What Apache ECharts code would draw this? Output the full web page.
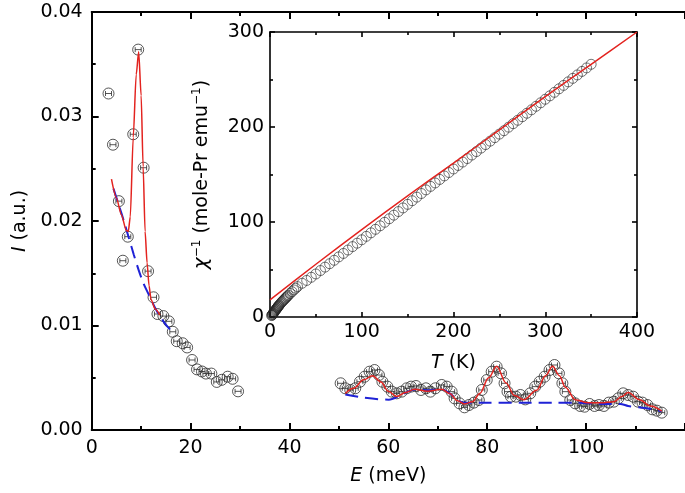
<!DOCTYPE html>
<html><head><meta charset="utf-8">
<script src="https://cdn.jsdelivr.net/npm/echarts@6/dist/echarts.min.js"></script>
<style>html,body{margin:0;padding:0;background:#fff}#c{width:685px;height:493px}</style>
</head><body><div id="c"></div><script>
// ---- Main panel: inelastic intensity I vs E ----
const lowE = [3.4, 4.3, 5.5, 6.3, 7.3, 8.4, 9.4, 10.5, 11.4, 12.5, 13.3, 14.5, 15.6, 16.4, 17.2, 18.4, 19.3, 20.3, 21.3, 22.3, 23.1, 24.2, 25.3, 26.3, 27.5, 28.5, 29.6];
const lowI = [0.0322, 0.0273, 0.0219, 0.0162, 0.0185, 0.0283, 0.0364, 0.0251, 0.0152, 0.0127, 0.0111, 0.0109, 0.0104, 0.0094, 0.0085, 0.0083, 0.0079, 0.0067, 0.0058, 0.0056, 0.0054, 0.0054, 0.0046, 0.0048, 0.0051, 0.0049, 0.0037];
const highE = [50.35, 51.3, 52.3, 53.3, 54.25, 55.2, 56.2, 57.2, 58.1, 58.8, 59.8, 60.7, 61.7, 62.7, 63.7, 64.6, 65.6, 66.6, 67.6, 68.5, 69.5, 70.8, 71.8, 72.8, 73.4, 74.4, 75.4, 76.3, 77.3, 78.3, 78.9, 79.9, 80.9, 81.9, 82.8, 83.5, 84.1, 84.8, 85.8, 86.7, 87.7, 88.7, 89.7, 90.6, 91.6, 92.6, 93.6, 94.5, 95.2, 95.8, 96.8, 97.8, 98.8, 99.7, 100.7, 101.7, 102.6, 103.6, 104.6, 105.6, 106.5, 107.5, 108.5, 109.5, 110.5, 111.4, 112.4, 113.4, 114.3, 115.3];
const highI = [0.00447, 0.00399, 0.00383, 0.00399, 0.00462, 0.0051, 0.00558, 0.00574, 0.00526, 0.00462, 0.00415, 0.00367, 0.00351, 0.00367, 0.00399, 0.00415, 0.00421, 0.00383, 0.00399, 0.00367, 0.00399, 0.00431, 0.00415, 0.00367, 0.00303, 0.00255, 0.00217, 0.00239, 0.00262, 0.00287, 0.00383, 0.00478, 0.00558, 0.00606, 0.00542, 0.00447, 0.00367, 0.00319, 0.00319, 0.00335, 0.00293, 0.00351, 0.00415, 0.00462, 0.0051, 0.00574, 0.00622, 0.00542, 0.00447, 0.00367, 0.00287, 0.00255, 0.0023, 0.00223, 0.00249, 0.0023, 0.00239, 0.0023, 0.00262, 0.00271, 0.00303, 0.00351, 0.00335, 0.00319, 0.00271, 0.00262, 0.00239, 0.00198, 0.00185, 0.00166];

const fitLowE = [4.0, 5.0, 6.0, 7.0, 7.4, 7.8, 8.4, 9.0, 9.5, 10.0, 10.4, 10.8, 11.2, 11.6, 12.0, 12.8, 13.8];
const fitLowI = [0.0240, 0.0222, 0.0206, 0.0191, 0.0190, 0.0204, 0.0280, 0.0340, 0.0362, 0.0320, 0.0252, 0.0190, 0.0160, 0.0138, 0.0125, 0.0116, 0.0110];
const fitHighE = [51.3, 53, 55, 56.8, 58.5, 60, 61.7, 63.5, 65.3, 67.9, 70.8, 72.4, 74, 75.4, 77, 78.5, 80.3, 81.9, 83.8, 85.5, 87.4, 90, 91.8, 93.2, 94.6, 95.8, 97.8, 100.4, 103, 105.6, 107.2, 108.5, 110.8, 113, 115.3];
const fitHighI = [0.0035, 0.0040, 0.0048, 0.0052, 0.0046, 0.0037, 0.0032, 0.0036, 0.0039, 0.0037, 0.0039, 0.0035, 0.0028, 0.0025, 0.0027, 0.0035, 0.0050, 0.0061, 0.0045, 0.0033, 0.0029, 0.0038, 0.0052, 0.0061, 0.0052, 0.0041, 0.0029, 0.0026, 0.0026, 0.0027, 0.0032, 0.0036, 0.0029, 0.0023, 0.0018];

const bgLowE = [4.4, 5.5, 6.5, 7.5, 8.5, 9.5, 10.5, 11.5, 12.5, 13.5, 14.5, 15.5, 16.6];
const bgLowI = [0.0231, 0.0215, 0.0200, 0.0184, 0.0168, 0.0153, 0.0140, 0.0130, 0.0120, 0.0111, 0.0104, 0.0098, 0.0093];
const bgHighE = [51.3, 55, 60.1, 62, 64, 66, 68, 70.8, 72.4, 75.3, 80, 87, 94, 98, 103, 106.9, 108.5, 112, 115.3];
const bgHighI = [0.0034, 0.0031, 0.0029, 0.0032, 0.0037, 0.0039, 0.0038, 0.0039, 0.0035, 0.0026, 0.0026, 0.0026, 0.0026, 0.0026, 0.0025, 0.0025, 0.0023, 0.0021, 0.0018];

// ---- Inset: inverse susceptibility vs T ----
const chiT = [1.8, 2.2, 2.6, 3.0, 3.5, 4, 4.5, 5, 5.5, 6, 6.5, 7, 7.5, 8, 8.5, 9, 9.5, 10, 11, 12, 13, 14, 15, 16, 17, 18, 19, 20, 22, 24, 26, 28, 30, 35, 40, 45, 50, 55, 60, 65, 70, 75, 80, 85, 90, 95, 100, 105, 110, 115, 120, 125, 130, 135, 140, 145, 150, 155, 160, 165, 170, 175, 180, 185, 190, 195, 200, 205, 210, 215, 220, 225, 230, 235, 240, 245, 250, 255, 260, 265, 270, 275, 280, 285, 290, 295, 300, 305, 310, 315, 320, 325, 330, 335, 340, 345, 350];
const chiInv = [1.5, 2.0, 2.6, 3.1, 3.8, 4.5, 5.2, 5.9, 6.6, 7.3, 7.9, 8.5, 9.2, 9.9, 10.5, 11.2, 11.8, 12.5, 13.6, 14.8, 15.9, 16.9, 17.9, 18.9, 19.9, 20.9, 21.9, 22.9, 24.8, 26.7, 28.5, 30.3, 32.0, 35.5, 38.5, 41.8, 45.3, 48.9, 52.5, 56.1, 59.7, 63.3, 66.9, 70.5, 74.1, 77.7, 81.3, 84.9, 88.6, 92.3, 96.0, 99.7, 103.4, 107.2, 111.0, 114.8, 118.6, 122.4, 126.2, 130.0, 133.8, 137.5, 141.1, 144.8, 148.5, 152.1, 155.8, 159.5, 163.1, 166.8, 170.5, 174.1, 177.8, 181.5, 185.1, 188.8, 192.5, 196.1, 199.8, 203.5, 207.1, 210.8, 214.5, 218.1, 221.8, 225.5, 229.2, 232.8, 236.5, 240.2, 243.8, 247.5, 251.2, 254.8, 258.5, 262.2, 266.0];
const cwT = [0, 50, 100, 150, 200, 250, 300, 350, 400];
const cwInv = [18, 55.5, 92, 127.5, 162, 197, 232, 266, 300];

// tick labels
const mainYTicks = ['0.00', '0.01', '0.02', '0.03', '0.04'];

const zip = (a, b) => a.map((v, i) => [v, b[i]]);
const BLACK = '#000';
const RED = '#e3231f';
const BLUE = '#1f22d6';
const FONT = 'DejaVu Sans, Liberation Sans, Arial, sans-serif';
const FS = 19;

function renderPoint(params, api) {
  const c = api.coord([api.value(0), api.value(1)]);
  const st = { stroke: '#2a2a2a', lineWidth: 0.8, fill: null };
  const w = 3, h = 2.5;
  return {
    type: 'group',
    children: [
      { type: 'circle', shape: { cx: c[0], cy: c[1], r: 5.5 }, style: st },
      { type: 'line', shape: { x1: c[0] - w, y1: c[1], x2: c[0] + w, y2: c[1] }, style: st },
      { type: 'line', shape: { x1: c[0] - w, y1: c[1] - h, x2: c[0] - w, y2: c[1] + h }, style: st },
      { type: 'line', shape: { x1: c[0] + w, y1: c[1] - h, x2: c[0] + w, y2: c[1] + h }, style: st }
    ]
  };
}

function axisCommon(extra) {
  return Object.assign({
    type: 'value',
    axisLine: { show: true, onZero: false, lineStyle: { color: BLACK, width: 2 } },
    axisTick: { show: true, inside: true, length: 7, lineStyle: { color: BLACK, width: 2 } },
    minorTick: { show: true, splitNumber: 2, length: 4, lineStyle: { color: BLACK, width: 2 } },
    splitLine: { show: false },
    minorSplitLine: { show: false },
    axisLabel: { show: true, fontSize: FS, color: BLACK, fontFamily: FONT }
  }, extra);
}
const insetLine = { show: true, onZero: false, lineStyle: { color: BLACK, width: 1.6 } };
const insetTick = { show: true, inside: true, length: 5, lineStyle: { color: BLACK, width: 1.6 } };
const insetMinor = { show: true, splitNumber: 2, length: 3, lineStyle: { color: BLACK, width: 1.6 } };

const chart = echarts.init(document.getElementById('c'), null, { renderer: 'canvas' });
const option = {
  animation: false,
  backgroundColor: '#fff',
  textStyle: { fontFamily: FONT },
  grid: [
    { left: 91.7, top: 12, right: -23.9, height: 418 },
    { left: 270, top: 32, width: 367, height: 285 }
  ],
  xAxis: [
    axisCommon({
      gridIndex: 0, min: 0, max: 120, interval: 20, position: 'bottom',
      axisLabel: { show: true, fontSize: FS, color: BLACK, fontFamily: FONT, margin: 9, showMaxLabel: false },
      name: '{i|E} (meV)', nameLocation: 'middle', nameGap: 37,
      nameTextStyle: { fontSize: FS, color: BLACK, fontFamily: FONT, padding: [0, 0, 0, 0],
        rich: { i: { fontStyle: 'italic', fontSize: FS, fontFamily: FONT } } }
    }),
    axisCommon({
      gridIndex: 0, min: 0, max: 120, interval: 20, position: 'top',
      axisLabel: { show: false }
    }),
    axisCommon({
      gridIndex: 1, min: 0, max: 400, interval: 100, position: 'bottom',
      axisLine: insetLine, axisTick: insetTick, minorTick: insetMinor,
      axisLabel: { show: true, fontSize: FS, color: BLACK, fontFamily: FONT, margin: 6 },
      name: '{i|T} (K)', nameLocation: 'middle', nameGap: 37,
      nameTextStyle: { fontSize: FS, color: BLACK, fontFamily: FONT,
        rich: { i: { fontStyle: 'italic', fontSize: FS, fontFamily: FONT } } }
    }),
    axisCommon({
      gridIndex: 1, min: 0, max: 400, interval: 100, position: 'top',
      axisLine: insetLine, axisTick: insetTick, minorTick: insetMinor,
      axisLabel: { show: false }
    })
  ],
  yAxis: [
    axisCommon({
      gridIndex: 0, min: 0, max: 0.04, interval: 0.01, position: 'left',
      axisLabel: { show: true, fontSize: FS, color: BLACK, fontFamily: FONT, margin: 9,
        formatter: (v) => mainYTicks[Math.round(v * 100)] },
      name: '{i|I} (a.u.)', nameLocation: 'middle', nameGap: 62,
      nameTextStyle: { fontSize: FS, color: BLACK, fontFamily: FONT,
        rich: { i: { fontStyle: 'italic', fontSize: FS, fontFamily: FONT } } }
    }),
    axisCommon({
      gridIndex: 1, min: 0, max: 300, interval: 100, position: 'left',
      axisLine: insetLine, axisTick: insetTick, minorTick: insetMinor,
      axisLabel: { show: true, fontSize: FS, color: BLACK, fontFamily: FONT, margin: 6 },
      name: '{c|χ}{s|−1} (mole-Pr emu{s|−1})', nameLocation: 'middle', nameGap: 57,
      nameTextStyle: { fontSize: FS, color: BLACK, fontFamily: FONT, lineHeight: 22,
        rich: {
          c: { fontSize: 20, fontFamily: 'DejaVu Sans, sans-serif', fontStyle: 'italic', lineHeight: 22 },
          s: { fontSize: 12, fontFamily: FONT, verticalAlign: 'top', lineHeight: 12 }
        } }
    }),
    axisCommon({
      gridIndex: 1, min: 0, max: 300, interval: 100, position: 'right',
      axisLine: insetLine, axisTick: insetTick, minorTick: insetMinor,
      axisLabel: { show: false }
    })
  ],
  series: [
    { type: 'custom', xAxisIndex: 0, yAxisIndex: 0, renderItem: renderPoint, data: zip(lowE, lowI), z: 3 },
    { type: 'custom', xAxisIndex: 0, yAxisIndex: 0, renderItem: renderPoint, data: zip(highE, highI), z: 3 },
    { type: 'line', xAxisIndex: 0, yAxisIndex: 0, data: zip(bgLowE, bgLowI), showSymbol: false, smooth: 0.3,
      lineStyle: { color: BLUE, width: 2, type: [13, 7] }, z: 4 },
    { type: 'line', xAxisIndex: 0, yAxisIndex: 0, data: zip(bgHighE, bgHighI), showSymbol: false, smooth: 0.3,
      lineStyle: { color: BLUE, width: 2, type: [13, 7] }, z: 4 },
    { type: 'line', xAxisIndex: 0, yAxisIndex: 0, data: zip(fitLowE, fitLowI), showSymbol: false, smooth: 0.25, smoothMonotone: 'x',
      lineStyle: { color: RED, width: 1.5 }, z: 5 },
    { type: 'line', xAxisIndex: 0, yAxisIndex: 0, data: zip(fitHighE, fitHighI), showSymbol: false, smooth: 0.35, smoothMonotone: 'x',
      lineStyle: { color: RED, width: 1.5 }, z: 5 },
    { type: 'scatter', xAxisIndex: 2, yAxisIndex: 1, data: zip(chiT, chiInv), symbol: 'circle', symbolSize: 10,
      itemStyle: { color: 'rgba(0,0,0,0)', borderColor: '#222', borderWidth: 0.8 }, z: 3 },
    { type: 'line', xAxisIndex: 2, yAxisIndex: 1, data: zip(cwT, cwInv), showSymbol: false, smooth: 0.3,
      lineStyle: { color: RED, width: 1.5 }, z: 5 }
  ]
};
chart.setOption(option);
</script></body></html>
